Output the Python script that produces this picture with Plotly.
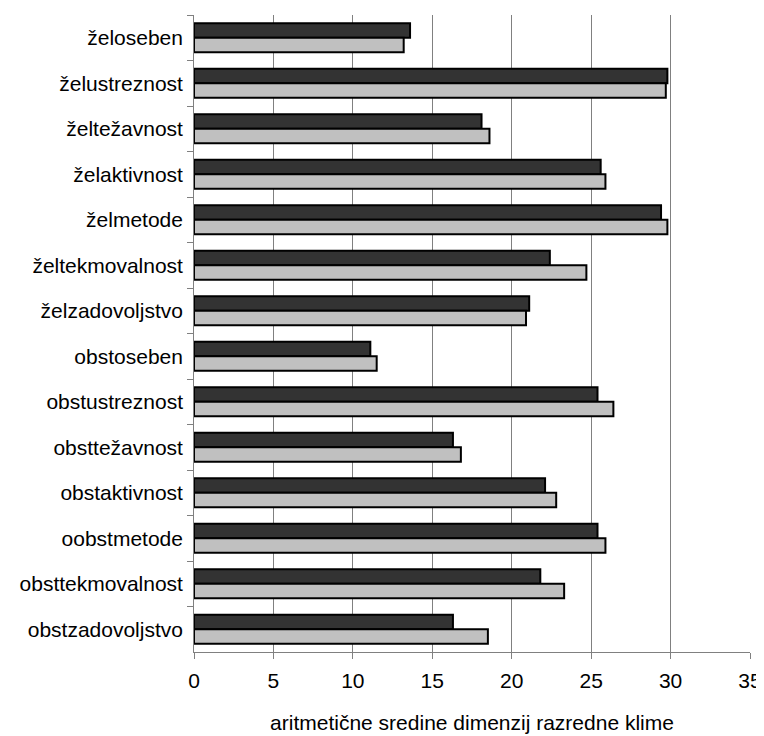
import plotly.graph_objects as go

categories = [
    "želoseben", "želustreznost", "želtežavnost", "želaktivnost", "želmetode",
    "želtekmovalnost", "želzadovoljstvo", "obstoseben", "obstustreznost",
    "obsttežavnost", "obstaktivnost", "oobstmetode", "obsttekmovalnost",
    "obstzadovoljstvo",
]
series_dark = [13.6, 29.8, 18.1, 25.6, 29.4, 22.4, 21.1, 11.1, 25.4, 16.3, 22.1, 25.4, 21.8, 16.3]
series_light = [13.2, 29.7, 18.6, 25.9, 29.8, 24.7, 20.9, 11.5, 26.4, 16.8, 22.8, 25.9, 23.3, 18.5]
x_ticks = [0, 5, 10, 15, 20, 25, 30, 35]
x_title = "aritmetične sredine dimenzij razredne klime"

FONT = "Liberation Sans, Arial, sans-serif"

fig = go.Figure()
fig.add_trace(go.Bar(
    y=categories, x=series_dark, orientation="h", name="dark",
    marker=dict(color="#333333", line=dict(color="#000000", width=2)),
))
fig.add_trace(go.Bar(
    y=categories, x=series_light, orientation="h", name="light",
    marker=dict(color="#c0c0c0", line=dict(color="#000000", width=2)),
))

fig.update_layout(
    width=764, height=736,
    margin=dict(l=186, r=22, t=7, b=92),
    paper_bgcolor="white", plot_bgcolor="white",
    barmode="group", bargap=0.36, bargroupgap=0.0,
    showlegend=False,
    font=dict(family=FONT, color="#000000", size=21),
)
fig.update_xaxes(
    range=[0, 35], tickvals=x_ticks, ticktext=[str(v) for v in x_ticks],
    showgrid=True, gridcolor="#808080", gridwidth=1,
    showline=True, linecolor="#808080", linewidth=1,
    zeroline=False, automargin=False,
    ticks="outside", ticklen=6, tickcolor="#808080",
    ticklabelstandoff=4,
    tickfont=dict(size=21, family=FONT),
    title=dict(text=x_title, font=dict(size=21, family=FONT), standoff=24),
)
fig.update_yaxes(
    autorange="reversed", automargin=False,
    showline=True, linecolor="#808080", linewidth=1,
    ticks="outside", ticklen=6, tickcolor="#808080", tickson="boundaries",
    showgrid=False,
    tickfont=dict(size=21, family=FONT),
    ticksuffix=" ",
)

fig.write_html("out.html")
